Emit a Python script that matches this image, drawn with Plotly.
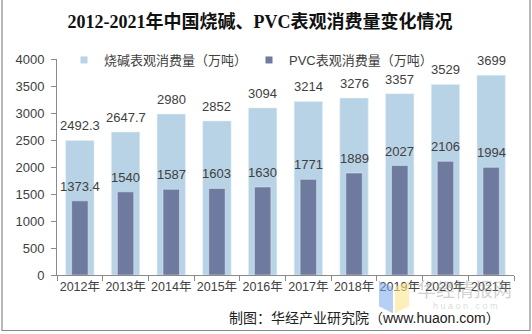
import plotly.graph_objects as go

years = ["2012年", "2013年", "2014年", "2015年", "2016年", "2017年", "2018年", "2019年", "2020年", "2021年"]
caustic_soda = [2492.3, 2647.7, 2980, 2852, 3094, 3214, 3276, 3357, 3529, 3699]
pvc = [1373.4, 1540, 1587, 1603, 1630, 1771, 1889, 2027, 2106, 1994]
caustic_labels = ["2492.3", "2647.7", "2980", "2852", "3094", "3214", "3276", "3357", "3529", "3699"]
pvc_labels = ["1373.4", "1540", "1587", "1603", "1630", "1771", "1889", "2027", "2106", "1994"]
y_ticks = [0, 500, 1000, 1500, 2000, 2500, 3000, 3500, 4000]

name_soda = "烧碱表观消费量（万吨）"
name_pvc = "PVC表观消费量（万吨）"
c_light = "#B9D3E6"
c_dark = "#6E7B9E"
txt = "#404040"
font_main = "Liberation Sans, Arial, Noto Sans CJK SC, sans-serif"

# plot area in pixels (for decorations outside the axes)
PL, PR, PT, PB = 57, 514, 61, 275


def px(x):
    return (x - PL) / (PR - PL)


def py(y):
    return (PB - y) / (PB - PT)


fig = go.Figure()
fig.add_trace(go.Bar(x=years, y=caustic_soda, name=name_soda, marker_color=c_light,
                     width=0.62, showlegend=False, hoverinfo="x+y"))
fig.add_trace(go.Bar(x=years, y=pvc, name=name_pvc, marker_color=c_dark,
                     width=0.36, showlegend=False, hoverinfo="x+y"))
# legend entries with small square markers
fig.add_trace(go.Scatter(x=[None], y=[None], mode="markers", name=name_soda,
                         marker=dict(symbol="square", size=7, color=c_light)))
fig.add_trace(go.Scatter(x=[None], y=[None], mode="markers", name=name_pvc,
                         marker=dict(symbol="square", size=7, color=c_dark)))

for xs, ys, ls in [(years, caustic_soda, caustic_labels), (years, pvc, pvc_labels)]:
    for xv, yv, lv in zip(xs, ys, ls):
        fig.add_annotation(x=xv, y=yv, text=lv, showarrow=False, yanchor="bottom",
                           yshift=5, font=dict(size=13, color=txt, family=font_main))


# watermark logo (two faint quads) and text
def quad(pts):
    return "M " + " L ".join(f"{px(a):.4f},{py(b):.4f}" for a, b in pts) + " Z"


fig.add_shape(type="path", xref="paper", yref="paper", layer="above",
              path=quad([(379, 281), (393, 287), (393, 313), (379, 306)]),
              fillcolor="rgba(120,170,235,0.55)", line=dict(width=0))
fig.add_shape(type="path", xref="paper", yref="paper", layer="above",
              path=quad([(395, 287), (409, 281), (409, 306), (395, 313)]),
              fillcolor="rgba(250,228,140,0.6)", line=dict(width=0))
fig.add_annotation(xref="paper", yref="paper", x=px(464), y=py(288),
                   xanchor="center", yanchor="middle",
                   text="华经情报网", showarrow=False,
                   font=dict(size=19, color="rgba(150,150,150,0.45)",
                             family="Noto Sans CJK SC"))
fig.add_annotation(xref="paper", yref="paper", x=px(465), y=py(306),
                   xanchor="center", yanchor="middle",
                   text="h u a o n . c o m", showarrow=False,
                   font=dict(size=9, color="rgba(170,170,170,0.45)", family=font_main))

# source
fig.add_annotation(xref="paper", yref="paper", x=px(502), y=py(318),
                   xanchor="right", yanchor="middle", showarrow=False,
                   text="制图：华经产业研究院（www.huaon.com）",
                   font=dict(size=14, color="#202020", family=font_main))

# frame
fig.add_shape(type="rect", xref="paper", yref="paper",
              x0=px(2), x1=px(530), y0=py(330), y1=py(2),
              line=dict(color="#8a8a8a", width=1.2), fillcolor="rgba(0,0,0,0)")

fig.update_layout(
    width=532, height=334,
    margin=dict(l=PL, r=532 - PR, t=PT - 2, b=334 - PB),
    paper_bgcolor="white", plot_bgcolor="white",
    barmode="overlay",
    title=dict(text="<b>2012-2021年中国烧碱、PVC表观消费量变化情况</b>",
               x=260 / 532, xanchor="center", xref="container",
               y=1 - 22 / 334, yanchor="middle", yref="container",
               font=dict(size=18, color="#111111",
                         family="Liberation Serif, Times New Roman, Noto Sans CJK SC, serif")),
    legend=dict(orientation="h", x=px(64), xanchor="left",
                y=py(62), yanchor="middle",
                font=dict(size=13, color=txt, family=font_main),
                bgcolor="rgba(0,0,0,0)", itemwidth=30, tracegroupgap=0,
                entrywidth=140, entrywidthmode="pixels"),
    font=dict(family=font_main, color=txt),
    xaxis=dict(showline=True, linecolor="#8a8a8a", linewidth=1, ticks="outside",
               tickson="boundaries", ticklen=5, tickcolor="#8a8a8a", tickangle=0,
               tickfont=dict(size=12.5, color=txt), showgrid=False, zeroline=False,
               range=[-0.5, 9.5]),
    yaxis=dict(range=[0, 4000], tickvals=y_ticks, showline=True, linecolor="#8a8a8a",
               linewidth=1, ticks="outside", ticklen=5, tickcolor="#8a8a8a",
               tickfont=dict(size=13, color=txt), showgrid=False, zeroline=False,
               ticklabelstandoff=4),
    showlegend=True,
)

fig.write_html("out.html")
